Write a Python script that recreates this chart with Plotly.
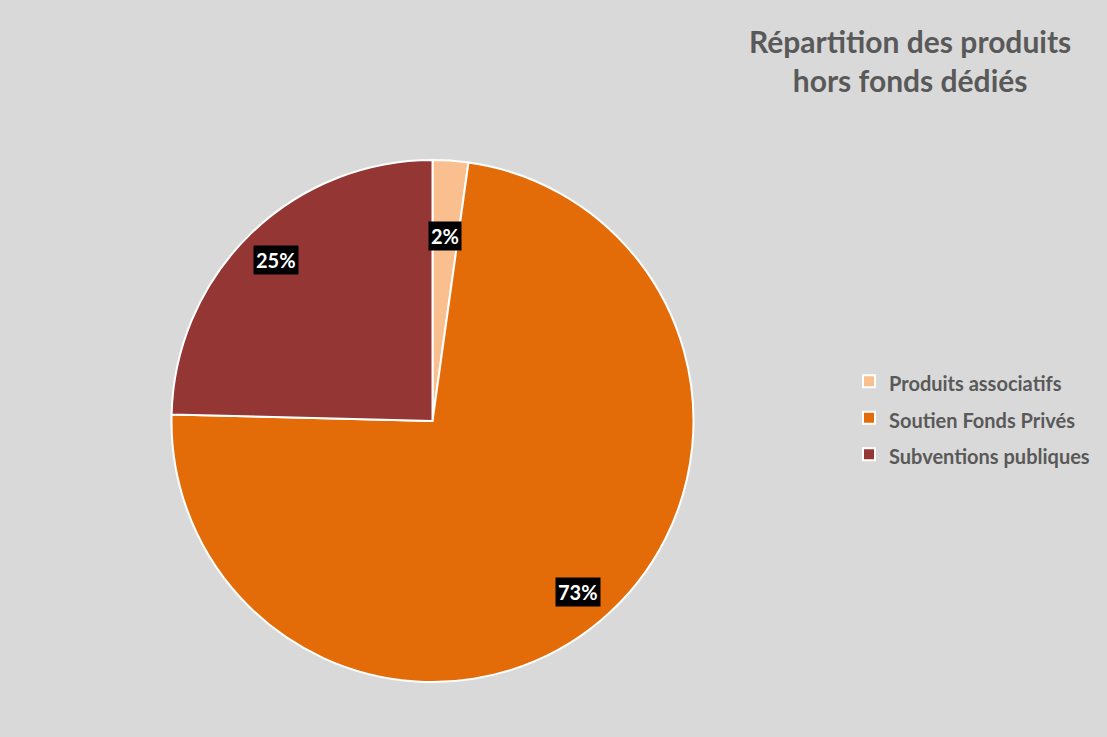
import math
import plotly.graph_objects as go

# ---- data ----
categories = ["Produits associatifs", "Soutien Fonds Privés", "Subventions publiques"]
shares = [2.2, 73.2, 24.6]
percent_labels = ["2%", "73%", "25%"]
title_lines = ["Répartition des produits", "hors fonds dédiés"]

# ---- style ----
colors = ["#F9BF8F", "#E36C09", "#943634"]
label_radius = [0.71, 0.86, 0.86]
W, H = 1107, 737
BG = "#D9D9D9"

cx_px, cy_px, R_px = 432.5, 421.0, 261.0
dom_x = [(cx_px - R_px) / W, (cx_px + R_px) / W]
dom_y = [(H - cy_px - R_px) / H, (H - cy_px + R_px) / H]

legend_labels = [f"<span style='font-size:20px'>{c}</span>" for c in categories]

fig = go.Figure(go.Pie(
    labels=legend_labels,
    values=shares,
    sort=False,
    direction="clockwise",
    rotation=0,
    marker=dict(colors=colors, line=dict(color="white", width=2)),
    textinfo="none",
    hoverinfo="label+percent",
    domain=dict(x=dom_x, y=dom_y),
))

# data labels positioned from the slice angles
total = sum(shares)
cum = 0.0
annotations = []
for v, lab, rf in zip(shares, percent_labels, label_radius):
    mid = (cum + v / 2) / total * 2 * math.pi
    cum += v
    px = cx_px + rf * R_px * math.sin(mid)
    py = cy_px - rf * R_px * math.cos(mid)
    annotations.append(dict(
        x=px / W, y=1 - py / H, xref="paper", yref="paper",
        text=f"<b>{lab}</b>", showarrow=False,
        font=dict(family="Lato", size=20, color="white"),
        bgcolor="black", borderpad=2, xanchor="center", yanchor="middle",
    ))

annotations.append(dict(
    x=910 / W, y=1 - 61 / H, xref="paper", yref="paper",
    text="<b>" + "<br>".join(title_lines) + "</b>", showarrow=False,
    font=dict(family="Lato", size=30, color="#595959"),
    xanchor="center", yanchor="middle", align="center",
))

fig.update_layout(
    width=W, height=H,
    paper_bgcolor=BG, plot_bgcolor=BG,
    margin=dict(l=0, r=0, t=0, b=0),
    showlegend=True,
    legend=dict(
        x=849 / W, xanchor="left", y=1 - 418 / H, yanchor="middle",
        font=dict(family="Lato", size=25.8, color="#595959", weight="bold"),
        bgcolor="rgba(0,0,0,0)",
    ),
    annotations=annotations,
)

fig.write_html("out.html", config={"displayModeBar": False},
               post_script="document.body.style.margin='0';")
